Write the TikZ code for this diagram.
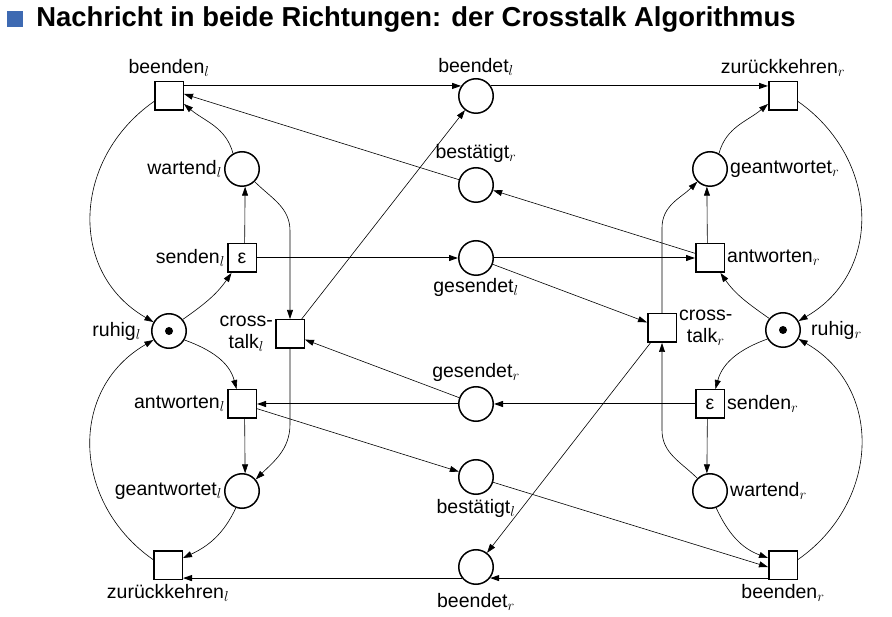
\documentclass[tikz,border=0pt]{standalone}
\usepackage{fontspec}
\setmainfont{Liberation Sans}
\usepackage{tikz}
\usetikzlibrary{arrows.meta,positioning,calc}
\definecolor{bulletblue}{RGB}{62,106,178}

\begin{document}
\begin{tikzpicture}[x=1pt,y=1pt,inner sep=2pt,font=\fontsize{19.5}{22}\selectfont]
  \tikzset{place/.style={circle,draw,line width=1.5pt,minimum size=34.5pt,inner sep=0pt}}
  \tikzset{transition/.style={rectangle,draw,line width=1.5pt,minimum size=28.5pt,inner sep=0pt}}
  \tikzset{flow/.style={-{Triangle[length=9pt,width=6pt]},line width=0.6pt}}
  \tikzset{mainflow/.style={flow,line width=1pt}}

  \useasboundingbox (0,0) rectangle (892,-617);
  \node [fill=bulletblue,minimum size=16pt,inner sep=0pt] (bullet) at (15,-19.5) {};
  \node [right=13pt of bullet,inner sep=0pt,font=\fontsize{27.4}{30}\selectfont\bfseries] (title) {Nachricht in beide Richtungen: der Crosstalk Algorithmus};

  % linke Seite
  \node [transition,label={[label distance=2pt]above:beenden$_l$}] (beendenl) at (169,-96) {};
  \node [place,label={left:wartend$_l$}] (wartendl) at (242,-169) {};
  \node [transition,label={left:senden$_l$}] (sendenl) at (242,-258) {ε};
  \node [place,label={[label distance=8pt]left:ruhig$_l$}] (ruhigl) at (169,-331) {};
  \node [transition,label={[align=center]left:{cross-\\talk$_l$}}] (crosstalkl) at (290,-334) {};
  \node [transition,label={left:antworten$_l$}] (antwortenl) at (242,-404) {};
  \node [place,label={left:geantwortet$_l$}] (geantwortetl) at (242,-491) {};
  \node [transition,label={[label distance=2pt]below:zurückkehren$_l$}] (zurueckl) at (168,-565) {};

  % Mitte
  \node [place,label={above:beendet$_l$}] (beendetl) at (476,-96) {};
  \node [place,label={[label distance=2pt]above:bestätigt$_r$}] (bestaetigtr) at (476,-185) {};
  \node [place,label={below:gesendet$_l$}] (gesendetl) at (476,-258) {};
  \node [place,label={[label distance=2pt]above:gesendet$_r$}] (gesendetr) at (476,-404) {};
  \node [place,label={[label distance=2pt]below:bestätigt$_l$}] (bestaetigtl) at (476,-477) {};
  \node [place,label={[label distance=6pt]below:beendet$_r$}] (beendetr) at (476,-567) {};

  % rechte Seite
  \node [transition,label={[label distance=2pt]above:zurückkehren$_r$}] (zurueckr) at (783,-96) {};
  \node [place,label={right:geantwortet$_r$}] (geantwortetr) at (710,-169) {};
  \node [transition,label={right:antworten$_r$}] (antwortenr) at (710,-258) {};
  \node [transition,label={[align=center]right:{cross-\\talk$_r$}}] (crosstalkr) at (662,-328) {};
  \node [place,label={[label distance=8pt]right:ruhig$_r$}] (ruhigr) at (783,-330) {};
  \node [transition,label={right:senden$_r$}] (sendenr) at (710,-404) {ε};
  \node [place,label={right:wartend$_r$}] (wartendr) at (710,-491) {};
  \node [transition,label={[label distance=2pt]below:beenden$_r$}] (beendenr) at (783,-565) {};

  \fill (ruhigl) circle (4);
  \fill (ruhigr) circle (4);

  % waagerechte Kanten
  \draw [mainflow] (beendetl.146 -| beendenl.east) -- (beendetl.146);
  \draw [mainflow] (beendetl.34) -- (beendetl.34 -| zurueckr.west);
  \draw [mainflow] (sendenl) -- (gesendetl);
  \draw [mainflow] (gesendetl) -- (antwortenr);
  \draw [mainflow] (sendenr) -- (gesendetr);
  \draw [mainflow] (gesendetr) -- (antwortenl);
  \draw [mainflow] (beendetr.-38 -| beendenr.west) -- (beendetr.-38);
  \draw [mainflow] (beendetr.218) -- (beendetr.218 -| zurueckl.east);

  % schraege Kanten
  \draw [flow] (crosstalkl) -- (beendetl);
  \draw [flow] (gesendetr) -- (crosstalkl);
  \draw [flow] (gesendetl) -- (crosstalkr);
  \draw [flow] (crosstalkr) -- (beendetr);
  \draw [flow] (antwortenr) -- (bestaetigtr);
  \draw [flow] (bestaetigtr) -- ([yshift=2pt]beendenl.east);
  \draw [flow] (antwortenl) -- (bestaetigtl);
  \draw [flow] (bestaetigtl) -- ([yshift=-2pt]beendenr.west);

  % Boegen links
  \draw [flow] (beendenl.200) to[out=215,in=150,looseness=1.15] (ruhigl.150);
  \draw [flow] (zurueckl.160) to[out=145,in=210,looseness=1.15] (ruhigl.210);
  \draw [flow] (ruhigl.40) to[out=35,in=235] (sendenl.235);
  \draw [flow] (sendenl.80) -- (wartendl.-80);
  \draw [flow] (wartendl.120) to[out=105,in=-40] ([yshift=-8pt]beendenl.east);
  \draw [flow] (wartendl.-45) to[out=-45,in=90] ($(crosstalkl.north)+(0,88)$) -- (crosstalkl.north);
  \draw [flow] (ruhigl.-30) to[out=-20,in=105] (antwortenl.110);
  \draw [flow] (antwortenl.-80) -- (geantwortetl.80);
  \draw [flow] (crosstalkl.south) -- ($(crosstalkl.south)+(0,-75)$) to[out=-90,in=45] (geantwortetl.40);
  \draw [flow] (geantwortetl.-110) to[out=-115,in=25] ([yshift=7pt]zurueckl.east);

  % Boegen rechts
  \draw [flow] (zurueckr.-20) to[out=-35,in=30,looseness=1.15] (ruhigr.30);
  \draw [flow] (beendenr.20) to[out=35,in=-30,looseness=1.15] (ruhigr.-30);
  \draw [flow] (ruhigr.140) to[out=145,in=-55] (antwortenr.-55);
  \draw [flow] (antwortenr.100) -- (geantwortetr.-100);
  \draw [flow] (geantwortetr.60) to[out=75,in=220] ([yshift=-8pt]zurueckr.west);
  \draw [flow] (crosstalkr.north) -- ($(crosstalkr.north)+(0,85)$) to[out=90,in=225] (geantwortetr.225);
  \draw [flow] (ruhigr.210) to[out=200,in=75] (sendenr.70);
  \draw [flow] (sendenr.-100) -- (wartendr.100);
  \draw [flow] (wartendr.135) to[out=135,in=-90] ($(crosstalkr.south)+(0,-87)$) -- (crosstalkr.south);
  \draw [flow] (wartendr.-70) to[out=-65,in=160] ([yshift=7pt]beendenr.west);
\end{tikzpicture}
\end{document}
